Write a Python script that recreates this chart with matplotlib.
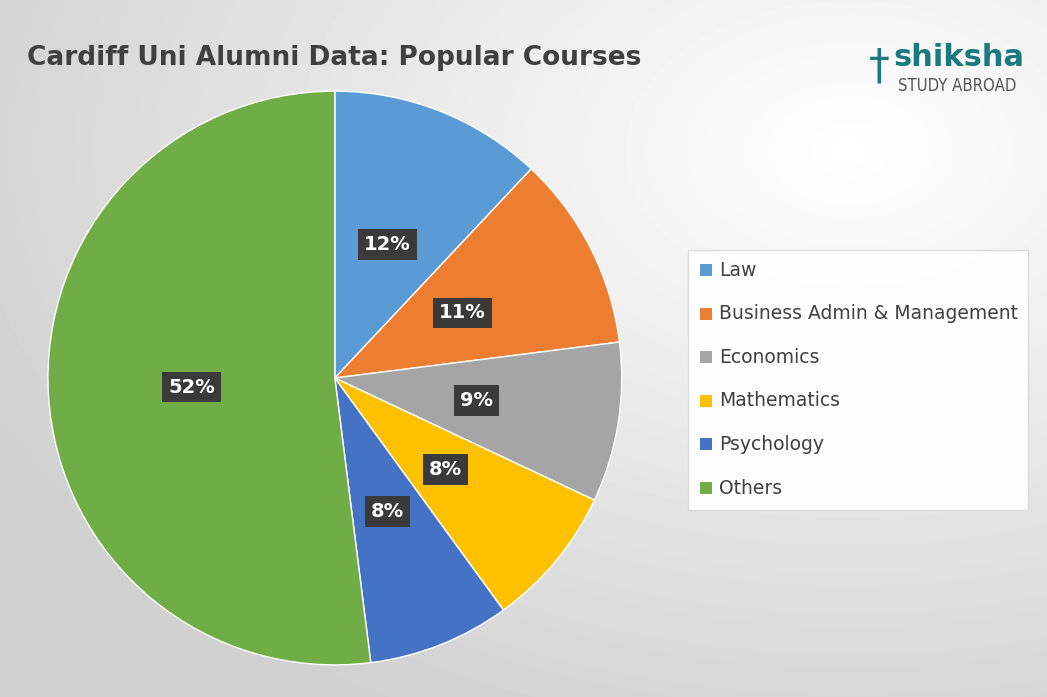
import numpy as np
import matplotlib.pyplot as plt
from matplotlib.patches import Rectangle

courses = ["Law", "Business Admin & Management", "Economics", "Mathematics", "Psychology", "Others"]
shares = [12, 11, 9, 8, 8, 52]
colors = ["#5B9BD5", "#ED7D31", "#A5A5A5", "#FFC000", "#4472C4", "#70AD47"]

fig = plt.figure(figsize=(10.47, 6.97), dpi=100)

# radial grey background
bg = fig.add_axes([0, 0, 1, 1])
yy, xx = np.mgrid[0:697, 0:1047]
d = np.hypot((xx - 850) / 1047, (yy - 150) / 697)
g = np.clip(1.0 - 0.2 * d, 0.82, 1.0)
bg.imshow(g, cmap="gray", vmin=0, vmax=1, aspect="auto", extent=[0, 1, 0, 1])
bg.set_xlim(0, 1)
bg.set_ylim(0, 1)
bg.axis("off")

ax = fig.add_axes([0.0458, 0.0459, 0.548, 0.8235])
wedges, texts, autotexts = ax.pie(
    shares, colors=colors, startangle=90, counterclock=False,
    autopct="%d%%", pctdistance=0.5,
    wedgeprops=dict(edgecolor="white", linewidth=1),
    textprops=dict(color="white", fontsize=14, fontweight="bold"))
for t in autotexts:
    t.set_bbox(dict(boxstyle="square,pad=0.3", facecolor="#3a3a3a", edgecolor="none"))
ax.set_xlim(-1, 1)
ax.set_ylim(-1, 1)
ax.set_aspect("equal")

fig.text(0.026, 0.917, "Cardiff Uni Alumni Data: Popular Courses", fontsize=19,
         fontweight="bold", color="#404040", va="center")

# legend
bg.add_patch(Rectangle((688 / 1047, 1 - 510 / 697), 340 / 1047, 260 / 697,
                       facecolor="white", edgecolor="#d9d9d9", linewidth=1, alpha=0.9))
for i, (name, c) in enumerate(zip(courses, colors)):
    y = 1 - (270 + i * 43.6) / 697
    bg.add_patch(Rectangle((700 / 1047, y - 6 / 697), 12 / 1047, 12 / 697, facecolor=c))
    bg.text(719 / 1047, y, name, fontsize=13.5, color="#404040", va="center")

# logo
fig.text(0.853, 0.918, "shiksha", fontsize=22, fontweight="bold", color="#1b7a80", va="center")
fig.text(0.858, 0.876, "STUDY ABROAD", fontsize=12, color="#555555", va="center",
         fontstretch="condensed")
fig.text(0.830, 0.905, "\u2020", fontsize=30, color="#1b7a80", va="center")

fig.savefig("out.png", dpi=100)
